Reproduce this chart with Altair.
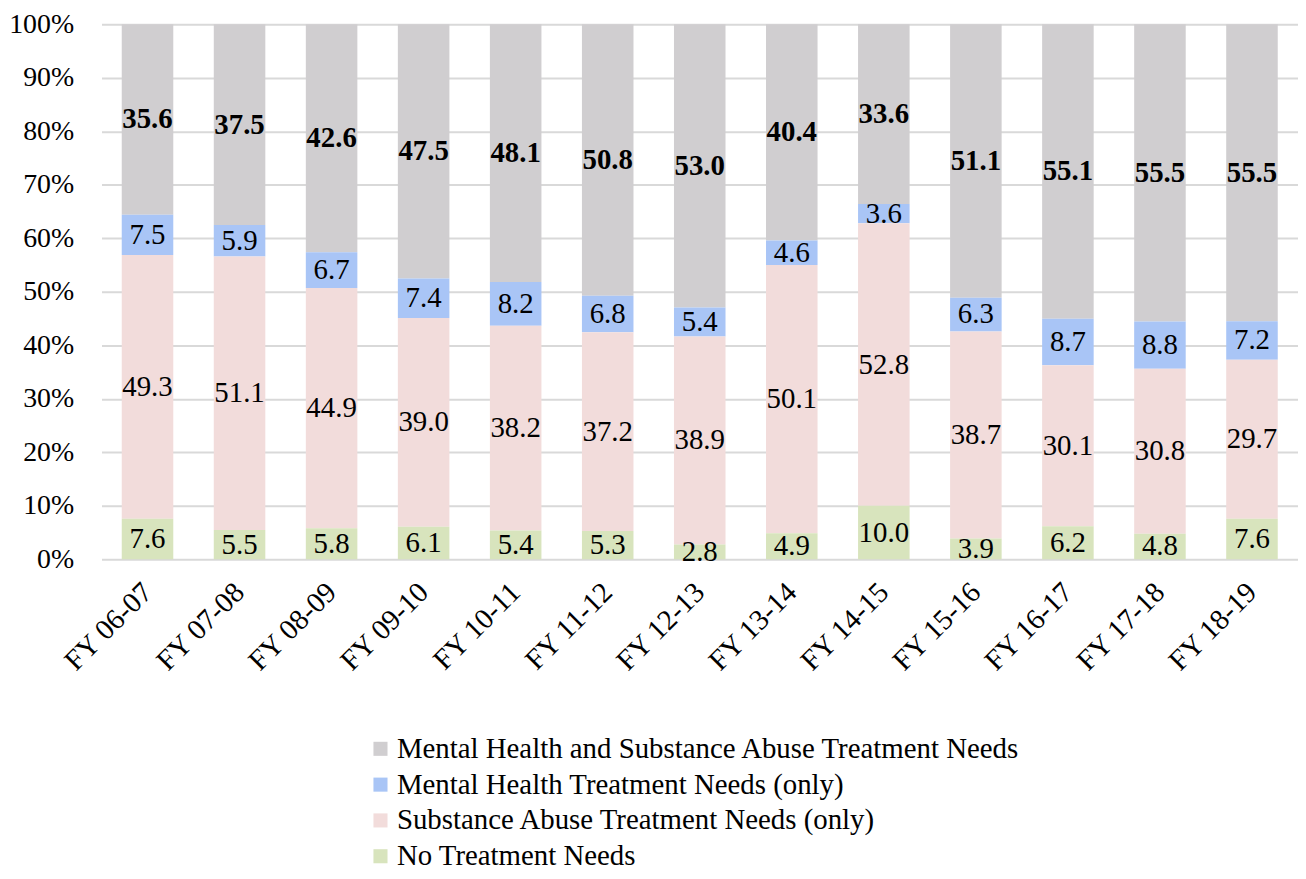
import altair as alt
import pandas as pd

categories = ["FY 06-07", "FY 07-08", "FY 08-09", "FY 09-10", "FY 10-11", "FY 11-12",
              "FY 12-13", "FY 13-14", "FY 14-15", "FY 15-16", "FY 16-17", "FY 17-18", "FY 18-19"]
mhsa = [35.6, 37.5, 42.6, 47.5, 48.1, 50.8, 53.0, 40.4, 33.6, 51.1, 55.1, 55.5, 55.5]
mh_only = [7.5, 5.9, 6.7, 7.4, 8.2, 6.8, 5.4, 4.6, 3.6, 6.3, 8.7, 8.8, 7.2]
sa_only = [49.3, 51.1, 44.9, 39.0, 38.2, 37.2, 38.9, 50.1, 52.8, 38.7, 30.1, 30.8, 29.7]
no_needs = [7.6, 5.5, 5.8, 6.1, 5.4, 5.3, 2.8, 4.9, 10.0, 3.9, 6.2, 4.8, 7.6]

series_names = ["Mental Health and Substance Abuse Treatment Needs",
                "Mental Health Treatment Needs (only)",
                "Substance Abuse Treatment Needs (only)",
                "No Treatment Needs"]
series_values = [mhsa, mh_only, sa_only, no_needs]
series_colors = ["#D0CED0", "#A9C5F6", "#F2DCDB", "#D8E4BD"]
stack_order = [3, 2, 1, 0]
bold_flag = [1, 0, 0, 0]

rows = []
for name, vals, o, b in zip(series_names, series_values, stack_order, bold_flag):
    for c, v in zip(categories, vals):
        rows.append({"cat": c, "series": name, "value": v, "ord": o, "bold": b})
df = pd.DataFrame(rows)

FONT = "Liberation Serif"
FS = 29

base = alt.Chart(df).transform_stack(
    stack="value", groupby=["cat"], as_=["y0", "y1"], offset="normalize",
    sort=[alt.SortField("ord", order="ascending")]
).transform_calculate(mid="(datum.y0 + datum.y1) / 2")

x_enc = alt.X("cat:N", sort=categories, title=None,
              scale=alt.Scale(paddingInner=0.44, paddingOuter=0.22),
              axis=alt.Axis(labelAngle=-45, labelAlign="right", labelBaseline="middle",
                            labelFont=FONT, labelFontSize=FS, labelColor="black",
                            domain=False, ticks=False, labelPadding=28, grid=False))

bars = base.mark_bar().encode(
    x=x_enc,
    y=alt.Y("y0:Q", scale=alt.Scale(domain=[0, 1]), title=None,
            axis=alt.Axis(format=".0%", values=[i / 10 for i in range(11)],
                          labelFont=FONT, labelFontSize=28, labelColor="black",
                          domain=False, ticks=False, labelPadding=28,
                          gridColor="#D9D9D9", gridWidth=2)),
    y2="y1:Q",
    color=alt.Color("series:N", sort=series_names,
                    scale=alt.Scale(domain=series_names, range=series_colors),
                    legend=alt.Legend(orient="none", legendX=266, legendY=714, title=None,
                                      direction="vertical", symbolType="square",
                                      symbolSize=200, symbolStrokeWidth=0,
                                      labelFont=FONT, labelFontSize=FS, labelColor="black",
                                      rowPadding=6, labelOffset=2, labelLimit=1000)),
)

labels_plain = base.transform_filter("datum.bold == 0").mark_text(
    font=FONT, fontSize=FS, color="black", baseline="middle", align="center"
).encode(x=alt.X("cat:N", sort=categories), y=alt.Y("mid:Q"),
         text=alt.Text("value:Q", format=".1f"))

labels_bold = base.transform_filter("datum.bold == 1").mark_text(
    font=FONT, fontSize=FS, fontWeight="bold", color="black", baseline="middle", align="center"
).encode(x=alt.X("cat:N", sort=categories), y=alt.Y("mid:Q"),
         text=alt.Text("value:Q", format=".1f"))

chart = alt.layer(bars, labels_plain, labels_bold).properties(
    width=1203, height=538,
    autosize=alt.AutoSizeParams(type="none"),
    padding={"left": 94, "top": 14, "right": 0, "bottom": 311},
).configure_view(stroke=None)

chart.save("out.html", embed_options={"renderer": "svg", "actions": False})
